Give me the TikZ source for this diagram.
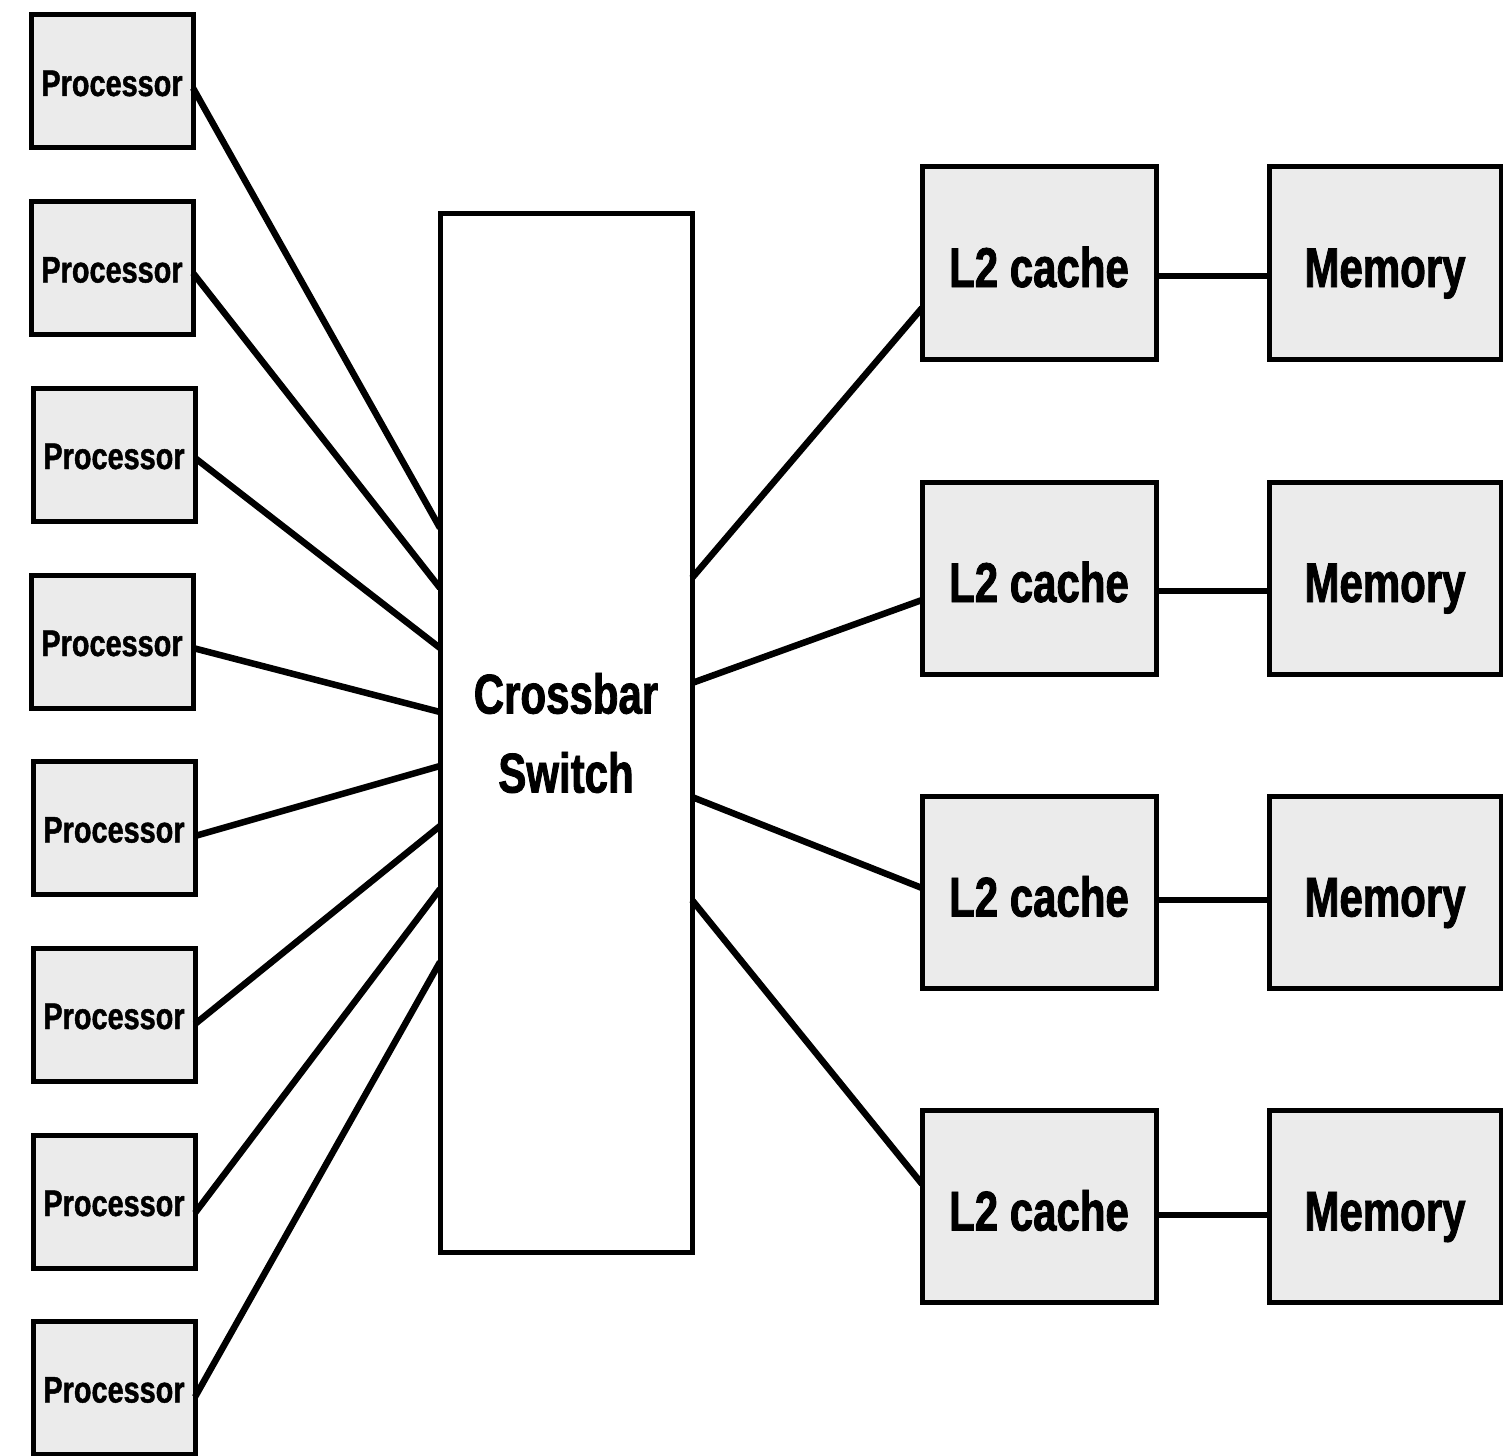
\documentclass[tikz,border=0pt]{standalone}
\usepackage{fontspec}
\setmainfont{Liberation Sans}
\newfontfamily\procfont[FakeStretch=0.78,FakeBold=1.2]{Liberation Sans}
\newfontfamily\bigfont[FakeStretch=0.75,FakeBold=1.5]{Liberation Sans}
\definecolor{boxgray}{HTML}{EBEBEB}
\tikzset{
  box/.style={draw=black, line width=5pt, fill=boxgray, inner sep=0pt, outer sep=0pt},
  proc/.style={box, minimum width=162pt, minimum height=133pt,
    text height=29pt, text depth=0pt,
    font=\procfont\bfseries\fontsize{37}{42}\selectfont},
  cache/.style={box, minimum width=234pt, minimum height=192pt,
    text height=48pt, text depth=0pt,
    font=\bigfont\bfseries\fontsize{56}{64}\selectfont},
  mem/.style={cache, minimum width=232pt},
  xbarbox/.style={draw=black, line width=5pt, fill=white, inner sep=0pt, outer sep=0pt,
    minimum width=252pt, minimum height=1038pt, align=center,
    font=\bigfont\bfseries\fontsize{56}{79}\selectfont},
  wire/.style={line width=6.5pt, black},
}
\begin{document}
\begin{tikzpicture}[x=1pt,y=-1pt]
\useasboundingbox (0,0) rectangle (1503,1455);
\clip (0,0) rectangle (1503,1455);
% processors
\node[proc] (p1) at (112,81.5) {Processor};
\node[proc] (p2) at (112,268) {Processor};
\node[proc] (p3) at (114,454.5) {Processor};
\node[proc] (p4) at (112,641.5) {Processor};
\node[proc] (p5) at (114,828) {Processor};
\node[proc] (p6) at (114,1014.5) {Processor};
\node[proc] (p7) at (114,1201.5) {Processor};
\node[proc] (p8) at (114,1388) {Processor};
% crossbar
\node[xbarbox] (xb) at (566,733) {Crossbar\\Switch};
% caches and memories
\node[cache] (c1) at (1039,263) {L2 cache};
\node[cache] (c2) at (1039,578) {L2 cache};
\node[cache] (c3) at (1039,892.5) {L2 cache};
\node[cache] (c4) at (1039,1206.5) {L2 cache};
\node[mem] (m1) at (1385,263) {Memory};
\node[mem] (m2) at (1385,578) {Memory};
\node[mem] (m3) at (1385,892.5) {Memory};
\node[mem] (m4) at (1385,1206.5) {Memory};
% processor wires
\draw[wire] ([yshift=-6.5pt]p1.east) -- ([yshift=205pt]xb.west);
\draw[wire] ([yshift=-5pt]p2.east) -- ([yshift=145pt]xb.west);
\draw[wire] ([yshift=-3.5pt]p3.east) -- ([yshift=85pt]xb.west);
\draw[wire] ([yshift=-6.5pt]p4.east) -- ([yshift=21pt]xb.west);
\draw[wire] ([yshift=-8pt]p5.east) -- ([yshift=-33pt]xb.west);
\draw[wire] ([yshift=-9.5pt]p6.east) -- ([yshift=-93pt]xb.west);
\draw[wire] ([yshift=-11.5pt]p7.east) -- ([yshift=-156pt]xb.west);
\draw[wire] ([yshift=-9pt]p8.east) -- ([yshift=-229pt]xb.west);
% cache wires
\draw[wire] ([yshift=155pt]xb.east) -- ([yshift=-45pt]c1.west);
\draw[wire] ([yshift=50pt]xb.east) -- ([yshift=-22pt]c2.west);
\draw[wire] ([yshift=-64pt]xb.east) -- ([yshift=4.5pt]c3.west);
\draw[wire] ([yshift=-167pt]xb.east) -- ([yshift=22.5pt]c4.west);
% memory wires
\draw[wire] ([yshift=-13pt]c1.east) -- ([yshift=-13pt]m1.west);
\draw[wire] ([yshift=-13pt]c2.east) -- ([yshift=-13pt]m2.west);
\draw[wire] ([yshift=-7.5pt]c3.east) -- ([yshift=-7.5pt]m3.west);
\draw[wire] ([yshift=-8.5pt]c4.east) -- ([yshift=-8.5pt]m4.west);
\end{tikzpicture}
\end{document}
